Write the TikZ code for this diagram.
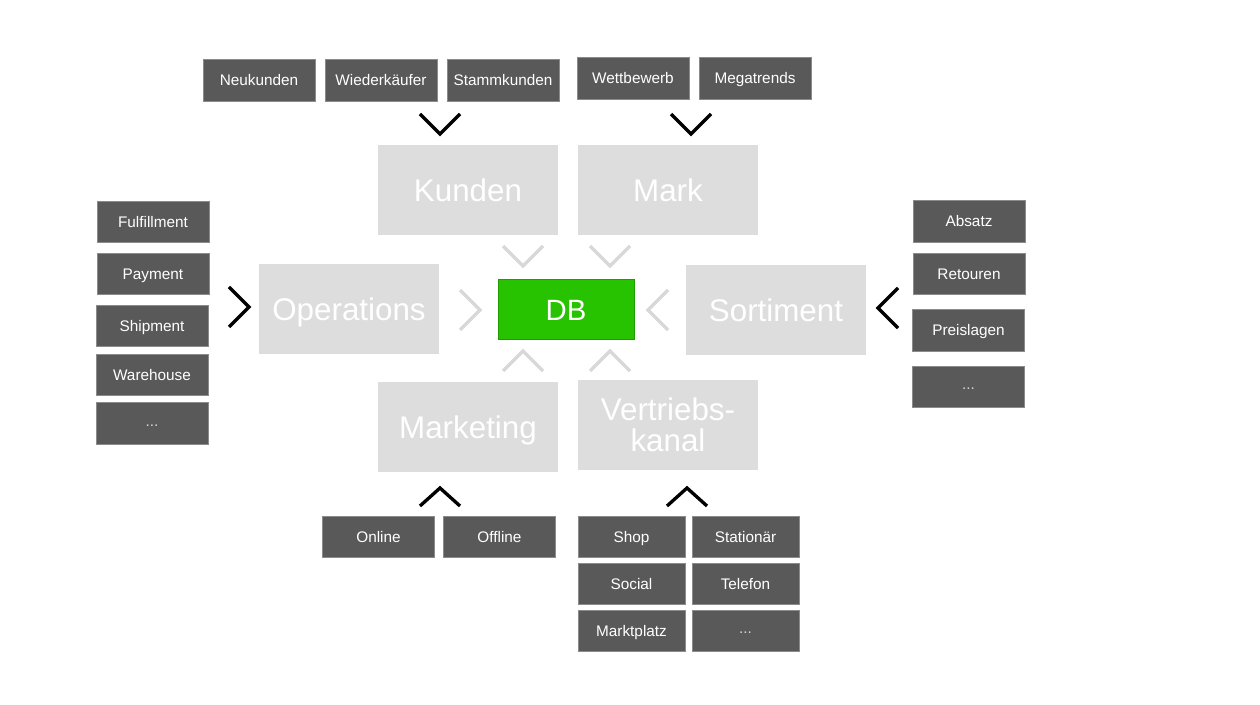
\documentclass[tikz,border=0pt]{standalone}
\usepackage{fontspec}
\setmainfont{Liberation Sans}
\definecolor{boxdark}{RGB}{89,89,89}
\definecolor{boxlight}{RGB}{221,221,221}
\definecolor{dbgreen}{RGB}{40,195,0}
\definecolor{chevlight}{RGB}{216,216,216}
\tikzset{
  darkbox/.style={fill=boxdark, draw=boxdark!70!white, line width=0.5pt, text=white,
    minimum width=84pt, minimum height=31pt, inner sep=0pt, text height=8.2pt, text depth=0pt,
    font=\fontsize{11.5}{13}\selectfont},
  narrowbox/.style={darkbox, minimum width=80pt},
  morebox/.style={text=white!75!boxdark, text height=4pt},
  lightbox/.style={fill=boxlight, text=white, minimum width=135pt, minimum height=67.5pt,
    inner sep=0pt, align=center, text height=16.8pt, text depth=0pt,
    font=\fontsize{23.5}{23.5}\selectfont},
  dbbox/.style={fill=dbgreen, draw=dbgreen!80!black, line width=0.5pt, text=white,
    minimum width=102pt, minimum height=45.5pt, inner sep=0pt, text height=15.8pt, text depth=0pt,
    font=\fontsize{22}{24}\selectfont},
  chev/.style={draw=black, line width=2.5pt},
  lightchev/.style={draw=chevlight, line width=2.4pt}
}
\begin{document}
\begin{tikzpicture}[x=0.75pt, y=-0.75pt]
        \useasboundingbox (0,0) rectangle (1260,705);
        % centre
        \node[dbbox] (db) at (566,309.5) {DB};
        \node[lightbox] (kunden) at (468,190) {Kunden};
        \node[lightbox] (mark) at (668,190) {Mark};
        \node[lightbox] (operations) at (349,309) {Operations};
        \node[lightbox] (sortiment) at (776,310) {Sortiment};
        \node[lightbox] (marketing) at (468,427) {Marketing};
        \node[lightbox, text height=40.3pt] (vertrieb) at (668,425) {Vertriebs-\\kanal};
        % light chevrons round DB
        \draw[lightchev] (503,246) -- (523,266) -- (543,246);
        \draw[lightchev] (590,246) -- (610,266) -- (630,246);
        \draw[lightchev] (460,290) -- (480,310) -- (460,330);
        \draw[lightchev] (668,290) -- (648,310) -- (668,330);
        \draw[lightchev] (503,371) -- (523,351) -- (543,371);
        \draw[lightchev] (590,371) -- (610,351) -- (630,371);
        % top
        \node[darkbox] (neukunden) at (259,80.5) {Neukunden};
        \node[darkbox] (wiederkaeufer) at (381,80.5) {Wiederkäufer};
        \node[darkbox] (stammkunden) at (503,80.5) {Stammkunden};
        \node[darkbox] (wettbewerb) at (633,78.5) {Wettbewerb};
        \node[darkbox] (megatrends) at (755,78.5) {Megatrends};
        \draw[chev] (420,114) -- (440,134) -- (460,114);
        \draw[chev] (671,114) -- (691,134) -- (711,114);
        % left
        \node[darkbox] (fulfillment) at (153,222) {Fulfillment};
        \node[darkbox] (payment) at (153,274) {Payment};
        \node[darkbox] (shipment) at (152,326) {Shipment};
        \node[darkbox] (warehouse) at (152,375) {Warehouse};
        \node[darkbox, morebox] (opsmore) at (152,423.5) {...};
        \draw[chev] (229,287) -- (249,307) -- (229,327);
        % right
        \node[darkbox] (absatz) at (969,221.5) {Absatz};
        \node[darkbox] (retouren) at (969,274) {Retouren};
        \node[darkbox] (preislagen) at (968.5,330.5) {Preislagen};
        \node[darkbox, morebox] (sortmore) at (968.5,387) {...};
        \draw[chev] (898,288) -- (878,308) -- (898,328);
        % bottom
        \draw[chev] (420,506) -- (440,488) -- (460,506);
        \draw[chev] (667,506) -- (687,488) -- (707,506);
        \node[darkbox] (online) at (378.5,537) {Online};
        \node[darkbox] (offline) at (499.5,537) {Offline};
        \node[narrowbox] (shop) at (631.5,537) {Shop};
        \node[narrowbox] (stationaer) at (745.5,537) {Stationär};
        \node[narrowbox] (social) at (631.5,584) {Social};
        \node[narrowbox] (telefon) at (745.5,584) {Telefon};
        \node[narrowbox] (marktplatz) at (631.5,631) {Marktplatz};
        \node[narrowbox, morebox] (kanalmore) at (745.5,631) {...};
    \end{tikzpicture}
\end{document}
